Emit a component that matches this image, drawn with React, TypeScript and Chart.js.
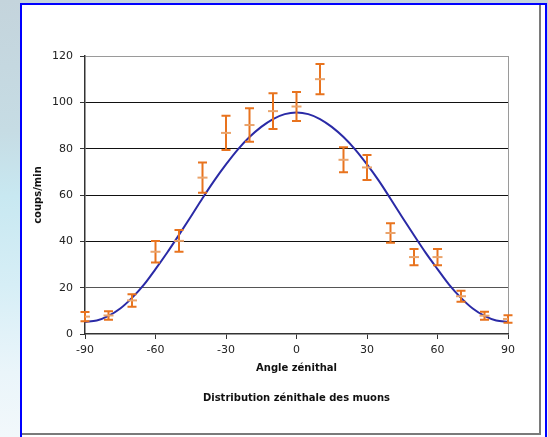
import React, { useEffect, useRef } from 'react';
import { Chart, registerables } from 'chart.js';

Chart.register(...registerables);

// Measured points (angle in degrees, counts per minute, error)
const angles = [-90, -80, -70, -60, -50, -40, -30, -20, -10, 0, 10, 20, 30, 40, 50, 60, 70, 80, 90];
const counts = [7.5, 8, 14.5, 35.5, 40.2, 67.5, 86.8, 90.2, 96.2, 98.2, 110, 75.2, 71.9, 43.6, 33.2, 33.2, 16.3, 7.9, 6.5];
const errors = [2, 1.8, 2.7, 4.6, 4.7, 6.5, 7.4, 7.2, 7.7, 6.3, 6.5, 5.4, 5.4, 4.2, 3.5, 3.5, 2.4, 1.7, 1.6];

// Fitted curve
const fitAngles = [-90, -85, -80, -75, -70, -65, -60, -55, -50, -45, -40, -35, -30, -25, -20, -15, -10, -5, 0,
  5, 10, 15, 20, 25, 30, 35, 40, 45, 50, 55, 60, 65, 70, 75, 80, 85, 90];
const fitCounts = [5.2, 5.8, 7.8, 11, 15.6, 21.2, 28, 35.2, 42.8, 50.6, 58.6, 66.2, 73.2, 79.6, 85, 89.4, 92.8, 94.9, 95.6,
  94.9, 92.8, 89.4, 85, 79.6, 73.2, 66.2, 58.4, 50.4, 42.6, 35, 28, 21.2, 15.6, 11, 7.8, 5.8, 5.2];

const xTicks = [-90, -60, -30, 0, 30, 60, 90];
const yTicks = [0, 20, 40, 60, 80, 100, 120];

const xTitle = 'Angle zénithal';
const yTitle = 'coups/min';
const chartTitle = 'Distribution zénithale des muons';

const errorBarPlugin = {
  id: 'errorBars',
  beforeDatasetDraw(chart: any, args: any) {
    if (args.index !== 0) return;
    const { ctx, scales } = chart;
    const x = scales.x;
    const y = scales.y;
    ctx.save();
    ctx.strokeStyle = '#E8731E';
    ctx.lineWidth = 2;
    angles.forEach((a, i) => {
      const px = x.getPixelForValue(a);
      const top = y.getPixelForValue(counts[i] + errors[i]);
      const bot = y.getPixelForValue(counts[i] - errors[i]);
      ctx.beginPath();
      ctx.moveTo(px, top);
      ctx.lineTo(px, bot);
      ctx.moveTo(px - 4.5, top);
      ctx.lineTo(px + 4.5, top);
      ctx.moveTo(px - 4.5, bot);
      ctx.lineTo(px + 4.5, bot);
      ctx.stroke();
    });
    ctx.restore();
  },
};

export default function App() {
  const ref = useRef<HTMLCanvasElement>(null);

  useEffect(() => {
    document.body.style.margin = '0';
    Chart.defaults.font.family = '"DejaVu Sans", Verdana, sans-serif';
    const chart = new Chart(ref.current as HTMLCanvasElement, {
      type: 'scatter',
      data: {
        datasets: [
          {
            type: 'scatter',
            data: angles.map((a, i) => ({ x: a, y: counts[i] })),
            pointStyle: 'line',
            pointRadius: 5,
            pointBorderWidth: 2,
            pointBorderColor: '#EAA46C',
            pointBackgroundColor: '#EAA46C',
          },
          {
            type: 'line',
            data: fitAngles.map((a, i) => ({ x: a, y: fitCounts[i] })),
            borderColor: '#2A2AA6',
            borderWidth: 2,
            pointRadius: 0,
            fill: false,
            tension: 0.4,
            cubicInterpolationMode: 'monotone',
          },
        ],
      } as any,
      options: {
        responsive: false,
        animation: false,
        devicePixelRatio: 1,
        layout: { padding: { left: 20, top: 56, right: 40, bottom: 33 } },
        plugins: {
          legend: { display: false },
          tooltip: { enabled: false },
          title: {
            display: true,
            position: 'bottom',
            fullSize: false,
            text: chartTitle,
            color: '#111',
            font: { size: 10, weight: 'bold' },
            padding: { top: 14, bottom: 0 },
          },
        },
        scales: {
          x: {
            type: 'linear',
            min: -90,
            max: 90,
            afterBuildTicks: (s: any) => {
              s.ticks = xTicks.map((v) => ({ value: v }));
            },
            afterFit: (s: any) => {
              s.height = 44;
            },
            ticks: { color: '#222', font: { size: 11 }, padding: 5, maxRotation: 0, autoSkip: false },
            grid: {
              drawTicks: true,
              tickLength: 5,
              tickColor: '#333',
              color: (c: any) => (c.tick && c.tick.value === 90 ? '#9a9a9a' : 'rgba(0,0,0,0)'),
            },
            border: { display: true, color: '#333', width: 1.5 },
            title: {
              display: true,
              text: xTitle,
              color: '#111',
              font: { size: 10, weight: 'bold' },
              padding: { top: 0, bottom: 4 },
            },
          },
          y: {
            min: 0,
            max: 120,
            afterBuildTicks: (s: any) => {
              s.ticks = yTicks.map((v) => ({ value: v }));
            },
            afterFit: (s: any) => {
              s.width = 65;
            },
            ticks: { color: '#222', font: { size: 11 }, padding: 7 },
            grid: {
              drawTicks: true,
              tickLength: 5,
              tickColor: '#333',
              color: (c: any) => {
                const v = c.tick ? c.tick.value : null;
                if (v === 120) return '#9a9a9a';
                if (v === 0) return 'rgba(0,0,0,0)';
                if (v === 20) return '#555';
                return '#111';
              },
            },
            border: { display: true, color: '#333', width: 1.5 },
            title: {
              display: true,
              text: yTitle,
              color: '#111',
              font: { size: 10, weight: 'bold' },
              padding: { top: 12, bottom: 0 },
            },
          },
        },
      } as any,
      plugins: [errorBarPlugin],
    });
    return () => chart.destroy();
  }, []);

  return (
    <div
      style={{
        position: 'relative',
        width: 548,
        height: 437,
        overflow: 'hidden',
        background: 'linear-gradient(to bottom, #C4D4DC 0%, #C6DCE4 30%, #C8E8F1 45%, #D6EEF6 65%, #EAF5FA 85%, #F2F8FB 100%)',
      }}
    >
      <div
        style={{
          position: 'absolute',
          left: 20,
          top: 3,
          width: 523,
          height: 440,
          background: '#fff',
          borderLeft: '2px solid #0000FF',
          borderTop: '2px solid #0000FF',
          borderRight: '2px solid #0000FF',
        }}
      />
      <div
        style={{
          position: 'absolute',
          left: 22,
          top: 5,
          width: 517,
          height: 428,
          borderRight: '2px solid #7a7a7a',
          borderBottom: '2px solid #7a7a7a',
        }}
      />
      <canvas ref={ref} width={548} height={437} style={{ position: 'absolute', left: 0, top: 0 }} />
    </div>
  );
}
